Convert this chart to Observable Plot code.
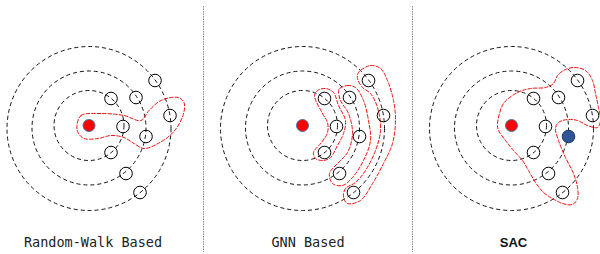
<!DOCTYPE html>
<html>
<head>
<meta charset="utf-8">
<script src="https://cdn.jsdelivr.net/npm/d3@7"></script>
<script src="https://cdn.jsdelivr.net/npm/@observablehq/plot@0.6"></script>
<style>
  html, body { margin: 0; padding: 0; background: #fff; }
  #chart { width: 600px; height: 254px; }
</style>
</head>
<body>
<div id="chart"></div>
<script>
// ---- data ----
const panelNames = ["Random-Walk Based", "GNN Based", "SAC"];
const panelCenterX = [88.5, 302, 511];
const panelCenterY = 125;
const ringRadius = [35, 57, 82];
const ringShiftY = [0, 2.5, 3];
// nodes relative to the query node (ring index per node)
const nodeRing = [0, 0, 0, 1, 1, 1, 2, 2, 2];
const nodeDX = [22, 34, 22, 47, 57, 37, 66, 81, 51];
const nodeDY = [-27, 1, 27, -28, 11, 48, -45, -10, 67];
// SAC: node that is excluded (highlighted in blue)
const sacHighlight = 4;
// community outlines (relative to query node)
const rwOutline = [[-12,0],[-8,-10],[12,-12],[35,-10],[52,-5],[60,-15],[72,-25],[89,-28],[95,-23],[94,-10],[84,7],[69,18],[55,23],[45,18],[35,12],[22,10],[9,13],[-5,13],[-11,7]];
const gnnOutlineInner = [[12,-30],[20,-12],[25,-3],[25,7],[19,17],[11,27],[13,33],[21,35],[28,32],[35,20],[41,8],[43,-5],[36,-20],[31,-33],[23,-37],[15,-35]];
const gnnOutlineMiddle = [[37,-37],[45,-40],[53,-38],[61,-25],[66,-5],[68,15],[61,35],[50,52],[40,60],[30,58],[27,48],[35,38],[45,27],[50,8],[46,-12],[38,-25],[36,-35]];
const gnnOutlineOuter = [[56,-53],[68,-60],[78,-57],[85,-45],[91,-25],[93,-5],[90,18],[81,38],[70,58],[58,75],[45,78],[41,72],[43,63],[53,57],[63,45],[73,25],[78,5],[75,-18],[68,-32],[60,-38],[55,-47]];
const sacOutline = [[-14,0],[-13,-8],[-8,-22],[6,-33],[19,-37],[34,-38],[42,-42],[46,-50],[52,-55],[62,-58],[74,-55],[81,-45],[84,-32],[87,-18],[89,-5],[86,2],[76,0],[66,-5],[56,-6],[47,-3],[44,3],[47,15],[54,32],[62,48],[66,62],[66,73],[61,79],[51,78],[41,73],[32,67],[24,57],[17,45],[11,35],[2,25],[-6,15],[-13,5]];
const dividerX = [203, 412];

// ---- derived tables ----
const rings = [];
panelCenterX.forEach((cx, p) => ringRadius.forEach((r, i) => rings.push({x: cx, y: panelCenterY + ringShiftY[i], r})));
const nodes = [];
panelCenterX.forEach((cx, p) => nodeDX.forEach((dx, i) => nodes.push({
  x: cx + dx, y: panelCenterY + nodeDY[i], ring: nodeRing[i], blue: p === 2 && i === sacHighlight
})));
const queries = panelCenterX.map((cx) => ({x: cx, y: panelCenterY}));
const outlineSets = [[0, "rw", rwOutline], [1, "g1", gnnOutlineInner], [1, "g2", gnnOutlineMiddle], [1, "g3", gnnOutlineOuter], [2, "sac", sacOutline]];
const outlines = [];
outlineSets.forEach(([p, id, pts]) => pts.forEach(([dx, dy]) => outlines.push({id, x: panelCenterX[p] + dx, y: panelCenterY + dy})));
const labels = panelNames.map((name, p) => ({name, x: panelCenterX[p] + [4, 5.5, 2][p], y: 242}));

const chart = Plot.plot({
  width: 600,
  height: 254,
  margin: 0,
  x: {domain: [0, 600], range: [0, 600], axis: null},
  y: {domain: [0, 254], range: [0, 254], axis: null},
  r: {type: "linear", domain: [0, 100], range: [0, 100]},
  style: {background: "#fff"},
  marks: [
    Plot.ruleX(dividerX, {y1: 6, y2: 252, stroke: "#8a8a8a", strokeWidth: 1, strokeDasharray: "1.5,1"}),
    Plot.dot(rings, {x: "x", y: "y", r: "r", fill: "none", stroke: "#111", strokeWidth: 1, strokeDasharray: "4,3"}),
    Plot.line(outlines, {x: "x", y: "y", z: "id", curve: "catmull-rom-closed", stroke: "#f01010", strokeWidth: 1, strokeDasharray: "3.5,2"}),
    Plot.dot(nodes.filter(d => !d.blue), {x: "x", y: "y", r: 6.3, fill: "none", stroke: "#000", strokeWidth: 1}),
    Plot.dot(nodes.filter(d => d.blue), {x: "x", y: "y", r: 6.3, fill: "#2f5597", stroke: "#1f3864", strokeWidth: 1}),
    Plot.dot(queries, {x: "x", y: "y", r: 6, fill: "#ff0000", stroke: "#4a6fa5", strokeWidth: 1}),
    Plot.text(labels.slice(0, 2), {x: "x", y: "y", text: "name", fontFamily: "DejaVu Sans Mono", fontSize: 13.5, fill: "#222", textAnchor: "middle"}),
    Plot.text(labels.slice(2), {x: "x", y: "y", text: "name", fontFamily: "Liberation Sans", fontWeight: "bold", fontSize: 13, fill: "#111", textAnchor: "middle"})
  ]
});
document.getElementById("chart").appendChild(chart);
</script>
</body>
</html>
